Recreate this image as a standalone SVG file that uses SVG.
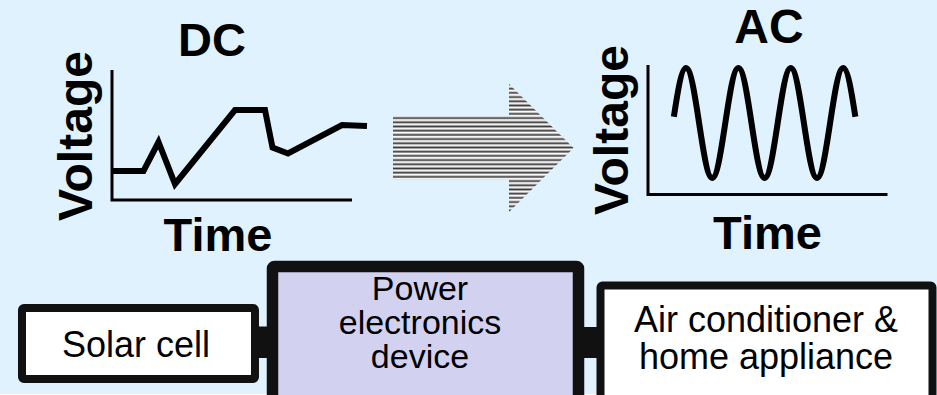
<svg xmlns="http://www.w3.org/2000/svg" width="937" height="395" viewBox="0 0 937 395">
<defs>
<pattern id="stripes" patternUnits="userSpaceOnUse" x="0" y="116" width="10" height="4.2">
<rect x="0" y="0" width="10" height="4.2" fill="#ffffff"/>
<rect x="0" y="0.6" width="10" height="0.8" fill="#9a9a9a"/>
<rect x="0" y="1.4" width="10" height="1.6" fill="#3c3c3c"/>
</pattern>
</defs>
<style>
.lbl{font-family:"Liberation Sans",Arial,sans-serif;font-weight:bold;fill:#000;text-anchor:middle}
.txt{font-family:"Liberation Sans",Arial,sans-serif;fill:#000;text-anchor:middle}
.axis{fill:none;stroke:#000;stroke-width:3}
.curve{fill:none;stroke:#000;stroke-width:6}
.box{stroke:#111;}
.bar{fill:#111}
</style>
<rect x="0" y="0" width="937" height="394" fill="#e0f2fe"/>
<rect x="0" y="394" width="937" height="1" fill="#ffffff"/>

<g id="dc-graph">
<text class="lbl" x="212" y="56" font-size="47">DC</text>
<text class="lbl" font-size="48" transform="translate(92,136) rotate(-90)">Voltage</text>
<text class="lbl" x="218" y="251" font-size="47">Time</text>
<path class="axis" d="M112,70 V200 H352"/>
<polyline class="curve" points="112,171 143.5,171 158.5,142 175,184 235,110 265,110 272.5,147.5 288,153.5 342,125 367,126"/>
</g>

<g id="arrow">
<path d="M393,116 H509 V84 L573.5,148 L509,212 V179.5 H393 Z" fill="url(#stripes)"/>
</g>

<g id="ac-graph">
<text class="lbl" x="769" y="43" font-size="48">AC</text>
<text class="lbl" font-size="48" transform="translate(628,130) rotate(-90)">Voltage</text>
<text class="lbl" x="767.5" y="249" font-size="47">Time</text>
<path class="axis" d="M648,65 V194.5 H887.5"/>
<path class="curve" d="M673.85,116.74 C677.71,91.48 681.6,68 686,68 C695.52,68 702.68,178 712.2,178 C721.72,178 728.88,68 738.4,68 C747.92,68 755.08,178 764.6,178 C774.12,178 781.28,68 790.8,68 C800.32,68 807.48,178 817,178 C826.52,178 833.68,68 843.2,68 C847.6,68 851.49,91.48 855.35,116.74"/>
</g>

<g id="connectors">
<rect class="bar" x="257" y="326.5" width="12" height="31.5"/>
<rect class="bar" x="582" y="327" width="16" height="31"/>
</g>

<g id="solar-cell">
<rect class="box" x="22" y="308" width="233" height="71" rx="2" fill="#ffffff" stroke-width="8"/>
<text class="txt" x="136" y="357" font-size="36">Solar cell</text>
</g>

<g id="power-electronics">
<rect class="box" x="272.5" y="266.5" width="306" height="140" rx="2" fill="#d2d2f0" stroke-width="11.5"/>
<text class="txt" font-size="34"><tspan x="420" y="300">Power</tspan><tspan x="420" y="334">electronics</tspan><tspan x="420" y="368">device</tspan></text>
</g>

<g id="appliance">
<rect class="box" x="600.5" y="285.5" width="332" height="120" rx="2" fill="#ffffff" stroke-width="8"/>
<text class="txt" font-size="36"><tspan x="766" y="332">Air conditioner &amp;</tspan><tspan x="766" y="369">home appliance</tspan></text>
</g>
</svg>
